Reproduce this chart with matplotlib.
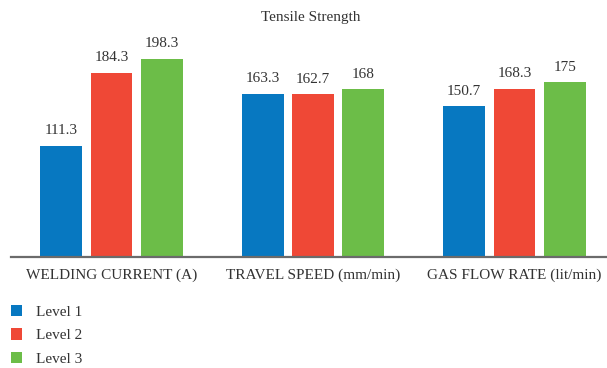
import matplotlib
matplotlib.use("Agg")
import matplotlib.pyplot as plt
import numpy as np

# Tensile strength per parameter and level
categories = ["WELDING CURRENT (A)", "TRAVEL SPEED (mm/min)", "GAS FLOW RATE (lit/min)"]
level_names = ["Level 1", "Level 2", "Level 3"]
level_1 = [111.3, 163.3, 150.7]
level_2 = [184.3, 162.7, 168.3]
level_3 = [198.3, 168, 175]
colors = ["#0778c1", "#ef4836", "#6cbd48"]

plt.rcParams["font.family"] = ["Liberation Serif", "DejaVu Serif"]
text_color = "#333333"

fig = plt.figure(figsize=(6.07, 3.68), dpi=100)
ax = fig.add_axes([10.7 / 607, 111 / 368, 1 - 10.7 / 607, 250 / 368])

x = np.arange(len(categories))
width = 0.208
offsets = [-0.25, 0, 0.25]
series = [level_1, level_2, level_3]

for vals, off, col, name in zip(series, offsets, colors, level_names):
    bars = ax.bar(x + off, vals, width, color=col, label=name, zorder=2)
    labels = [f"{v:g}" for v in vals]
    ax.bar_label(bars, labels=labels, padding=6, fontsize=11, color=text_color)

ax.set_xlim(-0.5, 2.459)
ax.set_ylim(0, 250)
for side in ["top", "right", "left"]:
    ax.spines[side].set_visible(False)
ax.spines["bottom"].set_color("#6b6b6b")
ax.spines["bottom"].set_linewidth(1.6)
ax.set_yticks([])
ax.set_xticks(x)
ax.set_xticklabels(categories, fontsize=11, color=text_color)
ax.tick_params(axis="x", length=0, pad=8)

fig.text(0.5 + 7 / 607, 1 - 17 / 368, "Tensile Strength", ha="center", va="center",
         fontsize=11, color=text_color)

fig.legend(loc="upper left", bbox_to_anchor=(11 / 607, 1 - 305 / 368), frameon=False,
           borderpad=0, borderaxespad=0,
           fontsize=11, handlelength=0.75, handleheight=0.75, handletextpad=0.87,
           labelspacing=0.62, labelcolor=text_color)

fig.savefig("out.png", dpi=100)
